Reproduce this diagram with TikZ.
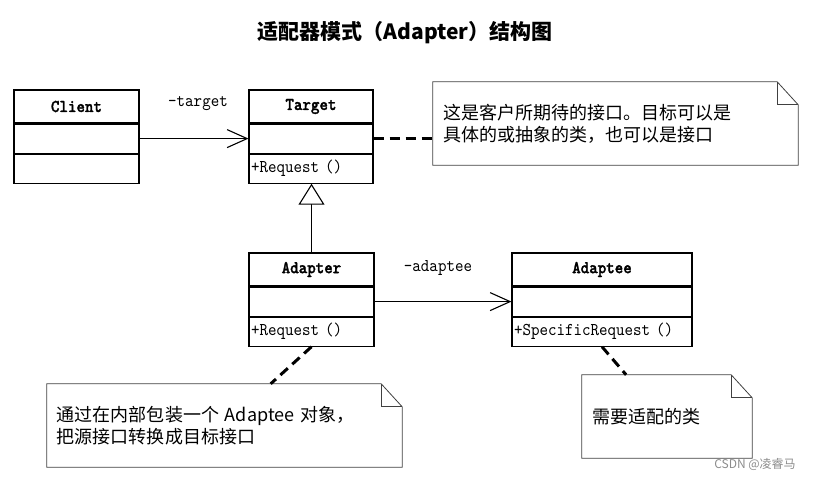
\documentclass[tikz,border=0pt]{standalone}
\usepackage{fontspec}
\newfontfamily\cjk{Noto Sans CJK SC}
\newfontfamily\umlfont{lmmono10-regular}[Extension=.otf,
  BoldFont=lmmonolt10-bold, BoldFeatures={FakeBold=1.5}, FakeStretch=0.9]
\usetikzlibrary{positioning,arrows.meta,calc}

\tikzset{
  cname/.style={draw, line width=1.1bp, minimum height=33bp, inner sep=0pt,
    font=\umlfont\bfseries\fontsize{18bp}{20bp}\selectfont},
  crow/.style={draw, line width=1.1bp, minimum height=29bp, inner xsep=2bp,
    inner ysep=0pt, text width=#1, align=left,
    font=\umlfont\fontsize{18bp}{20bp}\selectfont},
  rolelbl/.style={font=\umlfont\fontsize{18bp}{20bp}\selectfont},
  notebox/.style={inner xsep=10bp, inner ysep=0pt, align=left,
    font=\cjk\fontsize{18bp}{22bp}\selectfont},
  notedraw/.style={line width=0.8bp, draw=black!75},
  assoc/.style={line width=1.1bp, -{Straight Barb[length=20bp,width=18bp,line width=1.1bp]}},
  inherit/.style={line width=1.1bp, -{Triangle[open,length=21bp,width=26bp,fill=white]}},
  noteline/.style={line width=3bp, dash pattern=on 10bp off 6bp},
}

% dog-eared outline round a note node
\newcommand\dogear[1]{%
  \draw[notedraw] (#1.north west) -- ([xshift=-21bp]#1.north east)
    -- ([yshift=-23bp]#1.north east) -- (#1.south east) -- (#1.south west) -- cycle;
  \draw[notedraw] ([xshift=-21bp]#1.north east) |- ([yshift=-23bp]#1.north east);}

\begin{document}
\begin{tikzpicture}[x=1bp, y=-1bp]
  \useasboundingbox (0,0) rectangle (820,480);

  \node[font=\cjk\bfseries\fontsize{21bp}{24bp}\selectfont] (Title) at (405,33)
    {适配器模式（Adapter）结构图};

  % classes
  \node[cname, minimum width=125bp] (Client) at (76.5,106.5) {Client};
  \node[crow=121bp, below=0pt of Client] (ClientA) {};
  \node[crow=121bp, below=0pt of ClientA] (ClientO) {};

  \node[cname, minimum width=124bp] (Target) at (311,106.5) {Target};
  \node[crow=120bp, below=0pt of Target] (TargetA) {};
  \node[crow=120bp, below=0pt of TargetA] (TargetO) {+Request ()};

  \node[cname, minimum width=125bp] (Adapter) at (311.5,269.5) {Adapter};
  \node[crow=121bp, below=0pt of Adapter] (AdapterA) {};
  \node[crow=121bp, below=0pt of AdapterA] (AdapterO) {+Request ()};

  \node[cname, minimum width=180bp] (Adaptee) at (602,269.5) {Adaptee};
  \node[crow=176bp, below=0pt of Adaptee] (AdapteeA) {};
  \node[crow=176bp, below=0pt of AdapteeA] (AdapteeO) {+SpecificRequest ()};

  % relations
  \draw[assoc] (ClientA.east) -- (TargetA.west);
  \node[rolelbl] (RoleT) at (198,104) {-target};
  \draw[inherit] (Adapter.north) -- (Adapter.north |- TargetO.south);
  \draw[assoc] (AdapterA.east) -- (AdapteeA.west);
  \node[rolelbl] (RoleA) at (438,268) {-adaptee};

  % notes
  \node[notebox, text width=345bp, minimum height=83bp] (NoteT) at (615.5,123.5)
    {这是客户所期待的接口。目标可以是\\具体的或抽象的类，也可以是接口};
  \dogear{NoteT}
  \node[notebox, text width=335bp, minimum height=83bp] (NoteA) at (224.5,425.5)
    {通过在内部包装一个 Adaptee 对象，\\把源接口转换成目标接口};
  \dogear{NoteA}
  \node[notebox, text width=150bp, minimum height=83bp] (NoteE) at (667,416.5)
    {需要适配的类};
  \dogear{NoteE}

  \draw[noteline] (TargetA.east) -- (TargetA.east -| NoteT.west);
  \draw[noteline] (AdapterO.south) -- ($(NoteA.north west)!0.63!(NoteA.north east)$);
  \draw[noteline] (AdapteeO.south) -- ($(NoteE.north west)!0.26!(NoteE.north east)$);

  \node[font=\cjk\fontsize{12bp}{14bp}\selectfont, text=black!45] (Mark) at (755,464)
    {CSDN @凌睿马};
\end{tikzpicture}
\end{document}
